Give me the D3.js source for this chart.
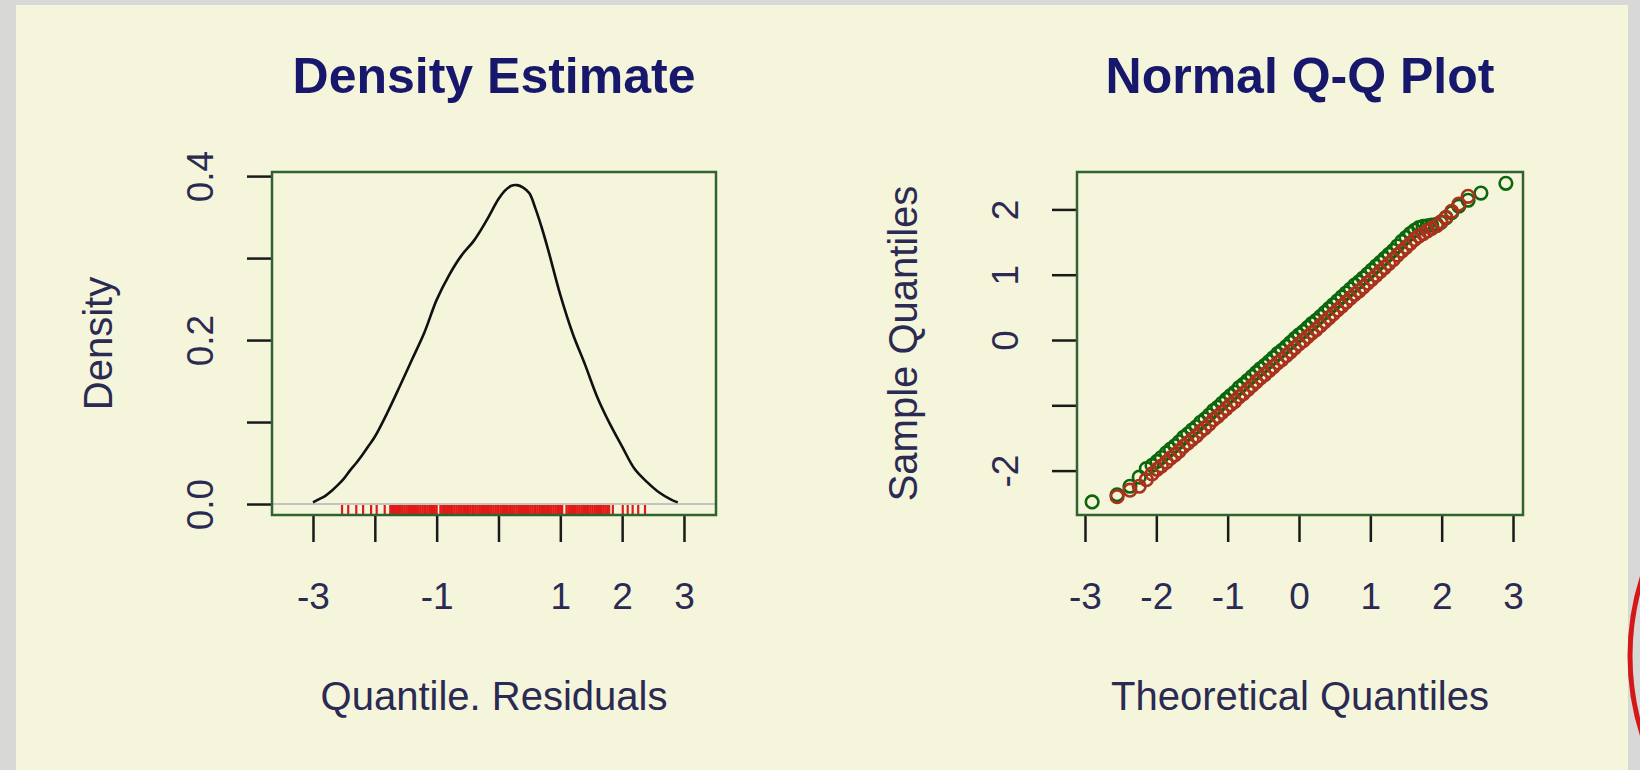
<!DOCTYPE html>
<html>

<head>
    <meta charset="utf-8">
    <!-- Load d3.js -->
    <script src="https://cdn.jsdelivr.net/npm/d3@7"></script>
    <style>
        body { margin: 0; background: #d8d8d6; }
    </style>
</head>

<body>
    <div id="my_dataviz"></div>
    <script>

        // ---- data ----

        // density estimate of the quantile residuals
        var densX = [-3.0, -2.9, -2.8, -2.7, -2.6, -2.5, -2.4, -2.3, -2.2, -2.1, -2.0, -1.8, -1.6, -1.4, -1.2, -1.0,
            -0.8, -0.6, -0.4, -0.2, 0.0, 0.1, 0.2, 0.3, 0.4, 0.5, 0.6, 0.7, 0.8, 1.0, 1.2, 1.4, 1.6, 1.8, 2.0,
            2.2, 2.4, 2.6, 2.8, 2.9];
        var densY = [0.002, 0.006, 0.010, 0.016, 0.023, 0.031, 0.041, 0.050, 0.060, 0.071, 0.082, 0.111, 0.143,
            0.176, 0.209, 0.249, 0.279, 0.303, 0.321, 0.345, 0.372, 0.382, 0.388, 0.389, 0.386, 0.379, 0.360,
            0.337, 0.311, 0.255, 0.208, 0.170, 0.130, 0.098, 0.070, 0.043, 0.027, 0.014, 0.005, 0.002];

        // rug of residuals under the density
        var rugValues = [-2.53, -2.43, -2.30, -2.19, -2.06, -1.97, -1.84,
            -1.75, -1.72, -1.69, -1.66, -1.63, -1.61, -1.58, -1.55, -1.52, -1.49, -1.46, -1.43, -1.40, -1.38,
            -1.35, -1.32, -1.29, -1.26, -1.23, -1.20, -1.18, -1.15, -1.12, -1.09, -1.06, -1.03, -1.00,
            -0.94, -0.91, -0.88, -0.85, -0.82, -0.80, -0.77, -0.74, -0.71, -0.68, -0.65, -0.62, -0.60, -0.57,
            -0.54, -0.51, -0.48, -0.45, -0.42, -0.40, -0.37, -0.34, -0.31, -0.28, -0.25, -0.22, -0.20, -0.17,
            -0.14, -0.11, -0.08, -0.05, -0.02, 0.00, 0.03, 0.06, 0.09, 0.12, 0.15, 0.18, 0.20, 0.23, 0.26,
            0.29, 0.32, 0.35, 0.38, 0.40, 0.43, 0.46, 0.49, 0.52, 0.55, 0.58, 0.60, 0.63, 0.66, 0.69, 0.72,
            0.75, 0.78, 0.80, 0.83, 0.86, 0.89, 0.92, 0.95, 0.98, 1.01, 1.03,
            1.10, 1.13, 1.16, 1.19, 1.22, 1.25, 1.28, 1.31, 1.34, 1.37, 1.40, 1.43, 1.46, 1.49, 1.52, 1.55,
            1.58, 1.61, 1.64, 1.67, 1.70, 1.73, 1.76,
            1.79, 1.85, 2.01, 2.09, 2.17, 2.26, 2.37];

        var densXTicks = [-3, -2, -1, 0, 1, 2, 3];
        var densXLabels = [-3, -1, 1, 2, 3];
        var densYTicks = [0, 0.1, 0.2, 0.3, 0.4];
        var densYLabels = [0, 0.2, 0.4];

        // normal Q-Q plot: theoretical quantiles and two samples
        var qqTheoretical = [-2.90, -2.55, -2.37, -2.24, -2.14, -2.06, -1.99, -1.93,
            -1.86, -1.80, -1.74, -1.68, -1.62, -1.56, -1.50, -1.44, -1.38, -1.32, -1.26, -1.20, -1.14, -1.08,
            -1.02, -0.96, -0.90, -0.84, -0.78, -0.72, -0.66, -0.60, -0.54, -0.48, -0.42, -0.36, -0.30, -0.24,
            -0.18, -0.12, -0.06, 0.00, 0.06, 0.12, 0.18, 0.24, 0.30, 0.36, 0.42, 0.48, 0.54, 0.60, 0.66, 0.72,
            0.78, 0.84, 0.90, 0.96, 1.02, 1.08, 1.14, 1.20, 1.26, 1.32, 1.38, 1.44, 1.50, 1.56, 1.62, 1.68,
            1.74, 1.80, 1.86,
            1.93, 1.99, 2.06, 2.14, 2.24, 2.37, 2.55, 2.90];
        var qqGreen = [-2.48, -2.37, -2.24, -2.10, -1.97, -1.92, -1.86, -1.80,
            -1.73, -1.67, -1.62, -1.56, -1.49, -1.44, -1.38, -1.33, -1.26, -1.21, -1.15, -1.08, -1.03, -0.97,
            -0.91, -0.85, -0.80, -0.73, -0.68, -0.62, -0.56, -0.50, -0.44, -0.39, -0.33, -0.27, -0.21, -0.16,
            -0.10, -0.04, 0.02, 0.08, 0.13, 0.19, 0.25, 0.30, 0.36, 0.42, 0.48, 0.54, 0.60, 0.66, 0.72, 0.78,
            0.84, 0.89, 0.95, 1.01, 1.07, 1.13, 1.19, 1.25, 1.31, 1.37, 1.44, 1.51, 1.57, 1.63, 1.68, 1.72,
            1.74, 1.75, 1.76,
            1.77, 1.80, 1.87, 1.95, 2.05, 2.14, 2.25, 2.40];
        var qqRed = [null, -2.40, -2.30, -2.24, -2.14, -2.05, -1.98, -1.93,
            -1.87, -1.81, -1.76, -1.70, -1.63, -1.58, -1.52, -1.47, -1.40, -1.35, -1.29, -1.22, -1.17, -1.11,
            -1.05, -0.99, -0.94, -0.87, -0.82, -0.76, -0.70, -0.64, -0.58, -0.53, -0.47, -0.41, -0.35, -0.30,
            -0.24, -0.18, -0.12, -0.06, -0.01, 0.05, 0.11, 0.16, 0.22, 0.28, 0.34, 0.40, 0.46, 0.52, 0.58, 0.64,
            0.70, 0.75, 0.81, 0.87, 0.93, 0.99, 1.05, 1.11, 1.17, 1.23, 1.30, 1.36, 1.42, 1.48, 1.54, 1.59,
            1.63, 1.67, 1.71,
            1.75, 1.81, 1.88, 1.97, 2.08, 2.20, null, null];

        var qqXTicks = [-3, -2, -1, 0, 1, 2, 3];
        var qqXLabels = [-3, -2, -1, 0, 1, 2, 3];
        var qqYTicks = [-2, -1, 0, 1, 2];
        var qqYLabels = [-2, 0, 1, 2];

        // ---- page ----
        var width = 1640, height = 770;
        var FONT = "'Liberation Sans', Arial, Helvetica, sans-serif";
        var titleColor = "#17176b", labelColor = "#2a2a52", frameColor = "#2f6430";

        var svg = d3.select("#my_dataviz")
            .append("svg")
            .attr("width", width)
            .attr("height", height);

        // grey page edge, beige slide
        svg.append("rect").attr("width", width).attr("height", height).attr("fill", "#d8d8d6");
        svg.append("rect").attr("x", 16).attr("y", 5).attr("width", 1612).attr("height", 765).attr("fill", "#f5f5dc");
        svg.append("circle").attr("cx", 1890).attr("cy", 656).attr("r", 260)
            .attr("fill", "none").attr("stroke", "#d41818").attr("stroke-width", 5);

        // draws the box, axes, title and labels of one R-style panel
        function drawPanel(box, x, y, opts) {
            var cx = (box.left + box.right) / 2, cy = (box.top + box.bottom) / 2;

            var xAxis = svg.append("g")
                .attr("transform", "translate(0," + box.bottom + ")")
                .call(d3.axisBottom(x).tickValues(opts.xTicks).tickSize(27).tickSizeOuter(0)
                    .tickFormat(function (d) { return opts.xLabels.indexOf(d) >= 0 ? String(d) : ""; }));
            xAxis.select(".domain").remove();
            xAxis.selectAll(".tick line").attr("stroke", "#1a1a1a").attr("stroke-width", 2.5);
            xAxis.selectAll(".tick text")
                .attr("y", 94).attr("dy", 0)
                .attr("fill", labelColor)
                .style("font-family", FONT).style("font-size", "37px");

            var yAxis = svg.append("g")
                .attr("transform", "translate(" + box.left + ",0)")
                .call(d3.axisLeft(y).tickValues(opts.yTicks).tickSize(25).tickSizeOuter(0)
                    .tickFormat(function (d) { return opts.yLabels.indexOf(d) >= 0 ? opts.yFormat(d) : ""; }));
            yAxis.select(".domain").remove();
            yAxis.selectAll(".tick line").attr("stroke", "#1a1a1a").attr("stroke-width", 2.5);
            yAxis.selectAll(".tick text")
                .attr("x", 0).attr("y", 0).attr("dy", 0)
                .attr("transform", "translate(-59,0) rotate(-90)")
                .style("text-anchor", "middle")
                .attr("fill", labelColor)
                .style("font-family", FONT).style("font-size", "37px");

            svg.append("rect")
                .attr("x", box.left).attr("y", box.top)
                .attr("width", box.right - box.left).attr("height", box.bottom - box.top)
                .attr("fill", "none").attr("stroke", frameColor).attr("stroke-width", 2.5);

            svg.append("text")
                .attr("x", cx).attr("y", 93)
                .attr("text-anchor", "middle")
                .attr("fill", titleColor)
                .style("font-family", FONT).style("font-size", "50px").style("font-weight", "bold")
                .text(opts.title);

            svg.append("text")
                .attr("x", cx).attr("y", 710)
                .attr("text-anchor", "middle")
                .attr("fill", labelColor)
                .style("font-family", FONT).style("font-size", "40px")
                .text(opts.xTitle);

            svg.append("text")
                .attr("transform", "translate(" + (box.left - 160) + "," + cy + ") rotate(-90)")
                .attr("text-anchor", "middle")
                .attr("fill", labelColor)
                .style("font-family", FONT).style("font-size", "40px")
                .text(opts.yTitle);
        }

        // ---------------- Density Estimate ----------------
        var box1 = { left: 272, right: 716, top: 172, bottom: 515 };
        var xD = d3.scaleLinear().domain([-3.663, 3.518]).range([box1.left, box1.right]);
        var yD = d3.scaleLinear().domain([-0.0134, 0.405]).range([box1.bottom, box1.top]);

        // grey zero line
        svg.append("line")
            .attr("x1", box1.left).attr("x2", box1.right)
            .attr("y1", yD(0)).attr("y2", yD(0))
            .attr("stroke", "#c4c4c0").attr("stroke-width", 2);

        // rug
        svg.append("g")
            .selectAll("line")
            .data(rugValues)
            .enter().append("line")
            .attr("x1", function (d) { return xD(d); })
            .attr("x2", function (d) { return xD(d); })
            .attr("y1", box1.bottom)
            .attr("y2", yD(0) + 1)
            .attr("stroke", "#e01a16")
            .attr("stroke-width", 2.2);

        // density curve
        var densData = densX.map(function (d, i) { return { x: d, y: densY[i] }; });
        svg.append("path")
            .datum(densData)
            .attr("fill", "none")
            .attr("stroke", "#111")
            .attr("stroke-width", 2.6)
            .attr("d", d3.line()
                .curve(d3.curveCatmullRom)
                .x(function (d) { return xD(d.x); })
                .y(function (d) { return yD(d.y); }));

        drawPanel(box1, xD, yD, {
            xTicks: densXTicks, xLabels: densXLabels,
            yTicks: densYTicks, yLabels: densYLabels,
            yFormat: d3.format(".1f"),
            title: "Density Estimate", xTitle: "Quantile. Residuals", yTitle: "Density"
        });

        // ---------------- Normal Q-Q Plot ----------------
        var box2 = { left: 1077, right: 1523, top: 172, bottom: 515 };
        var xQ = d3.scaleLinear().domain([-3.112, 3.140]).range([box2.left, box2.right]);
        var yQ = d3.scaleLinear().domain([-2.680, 2.573]).range([box2.bottom, box2.top]);

        var green = qqTheoretical.map(function (d, i) { return { t: d, s: qqGreen[i] }; });
        var red = qqTheoretical.map(function (d, i) { return { t: d, s: qqRed[i] }; })
            .filter(function (d) { return d.s !== null; });

        svg.append("g")
            .selectAll("circle")
            .data(green)
            .enter().append("circle")
            .attr("cx", function (d) { return xQ(d.t); })
            .attr("cy", function (d) { return yQ(d.s); })
            .attr("r", 6.3)
            .attr("fill", "none")
            .attr("stroke", "#0c660c")
            .attr("stroke-width", 2.6);

        svg.append("g")
            .selectAll("circle")
            .data(red)
            .enter().append("circle")
            .attr("cx", function (d) { return xQ(d.t); })
            .attr("cy", function (d) { return yQ(d.s); })
            .attr("r", 6.3)
            .attr("fill", "none")
            .attr("stroke", "#a8321c")
            .attr("stroke-width", 2.6);

        drawPanel(box2, xQ, yQ, {
            xTicks: qqXTicks, xLabels: qqXLabels,
            yTicks: qqYTicks, yLabels: qqYLabels,
            yFormat: function (d) { return String(d); },
            title: "Normal Q-Q Plot", xTitle: "Theoretical Quantiles", yTitle: "Sample Quantiles"
        });

    </script>
</body>

</html>
